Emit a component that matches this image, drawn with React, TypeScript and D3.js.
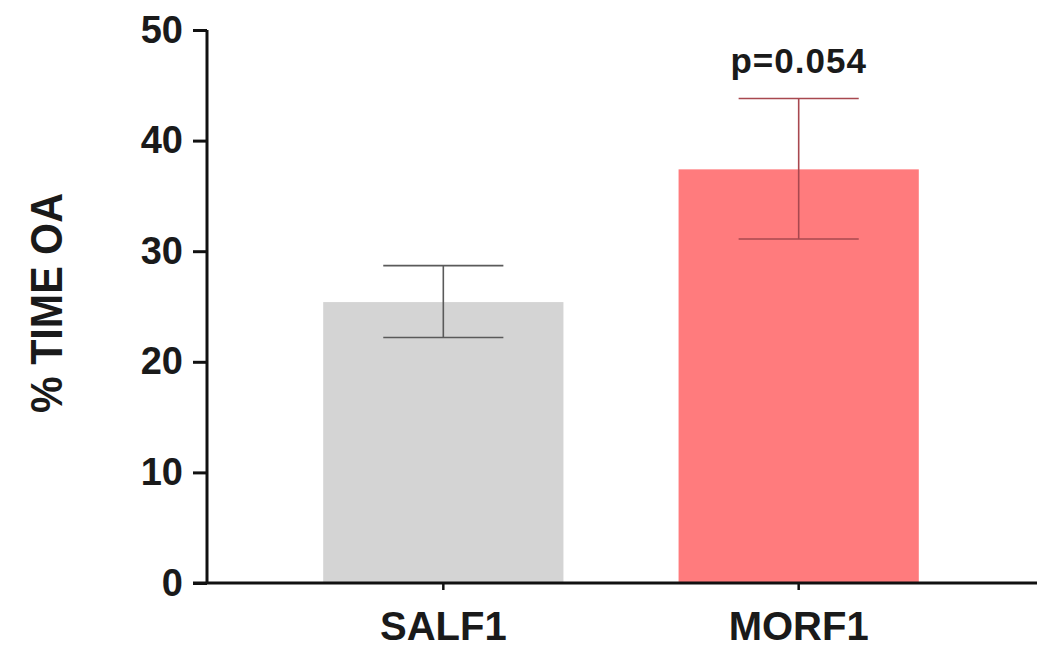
import { useEffect, useRef } from 'react'
import * as d3 from 'd3'

const categories = ['SALF1', 'MORF1']
const means = [25.4, 37.4]
const errUpper = [28.7, 43.8]
const errLower = [22.2, 31.1]
const barColors = ['#d4d4d4', '#ff7b7d']
const errColors = ['#5a5a5a', '#a8484f']
const yTicks = [0, 10, 20, 30, 40, 50]
const annotation = 'p=0.054'
const yLabel = '% TIME OA'

const FONT = '"Liberation Sans", Arial, Helvetica, sans-serif'

export default function App() {
  const svgRef = useRef<SVGSVGElement | null>(null)

  useEffect(() => {
    if (!svgRef.current) return
    const W = 1050
    const H = 655

    const svg = d3.select(svgRef.current)
    svg.selectAll('*').remove()
    svg.attr('width', W).attr('height', H)

    const x = d3.scaleBand<string>()
      .domain(categories)
      .range([207, 1035])
      .paddingInner(0.324)
      .paddingOuter(0.327)

    const y = d3.scaleLinear().domain([0, 50]).range([583, 30])

    const data = categories.map((c, i) => ({
      cat: c, mean: means[i], hi: errUpper[i], lo: errLower[i],
      fill: barColors[i], err: errColors[i],
    }))

    // Bars
    svg.selectAll('.bar')
      .data(data)
      .enter().append('rect')
      .attr('x', d => x(d.cat)!)
      .attr('y', d => y(d.mean))
      .attr('width', x.bandwidth())
      .attr('height', d => y(0) - y(d.mean))
      .attr('fill', d => d.fill)

    // Error bars
    const capW = x.bandwidth() / 2
    data.forEach(d => {
      const cx = x(d.cat)! + x.bandwidth() / 2
      const g = svg.append('g').attr('stroke', d.err).attr('stroke-width', 1.6)
      g.append('line').attr('x1', cx).attr('x2', cx).attr('y1', y(d.hi)).attr('y2', y(d.lo))
      g.append('line').attr('x1', cx - capW / 2).attr('x2', cx + capW / 2).attr('y1', y(d.hi)).attr('y2', y(d.hi))
      g.append('line').attr('x1', cx - capW / 2).attr('x2', cx + capW / 2).attr('y1', y(d.lo)).attr('y2', y(d.lo))
    })

    // Y axis
    svg.append('g')
      .attr('transform', 'translate(207,0)')
      .call(d3.axisLeft(y).tickValues(yTicks).tickSize(14).tickPadding(10).tickFormat(d3.format('d')))
      .call(ax => ax.select('.domain').attr('stroke', '#111').attr('stroke-width', 3).attr('d', `M0,${y(50)}V${y(0)}`))
      .call(ax => ax.selectAll('.tick line').attr('stroke', '#111').attr('stroke-width', 3))
      .call(ax => ax.selectAll('text')
        .attr('fill', '#1a1a1a')
        .attr('font-size', '38px')
        .attr('font-weight', 'bold')
        .attr('font-family', FONT))

    // X axis
    svg.append('g')
      .attr('transform', `translate(0,${y(0)})`)
      .call(d3.axisBottom(x).tickSize(7).tickPadding(22))
      .call(ax => ax.select('.domain').attr('stroke', '#111').attr('stroke-width', 3).attr('d', `M193,0H1037`))
      .call(ax => ax.selectAll('.tick line').attr('stroke', '#111').attr('stroke-width', 2.5))
      .call(ax => ax.selectAll('text')
        .attr('fill', '#1a1a1a')
        .attr('font-size', '40px')
        .attr('font-weight', 'bold')
        .attr('font-family', FONT))

    // Annotation above MORF1
    svg.append('text')
      .attr('x', x('MORF1')! + x.bandwidth() / 2)
      .attr('y', y(43.8) - 26)
      .attr('text-anchor', 'middle')
      .attr('fill', '#1a1a1a')
      .attr('font-size', '35px')
      .attr('font-weight', 'bold')
      .attr('font-family', FONT)
      .attr('letter-spacing', '1px')
      .text(annotation)

    // Y label
    svg.append('text')
      .attr('transform', `translate(62,${303}) rotate(-90)`)
      .attr('text-anchor', 'middle')
      .attr('fill', '#1a1a1a')
      .attr('font-size', '44px')
      .attr('font-weight', 'bold')
      .attr('font-family', FONT)
      .attr('textLength', 220)
      .attr('lengthAdjust', 'spacingAndGlyphs')
      .text(yLabel)
  }, [])

  return (
    <div style={{ position: 'absolute', left: 0, top: 0, background: '#fff' }}>
      <svg ref={svgRef} style={{ display: 'block' }} />
    </div>
  )
}
